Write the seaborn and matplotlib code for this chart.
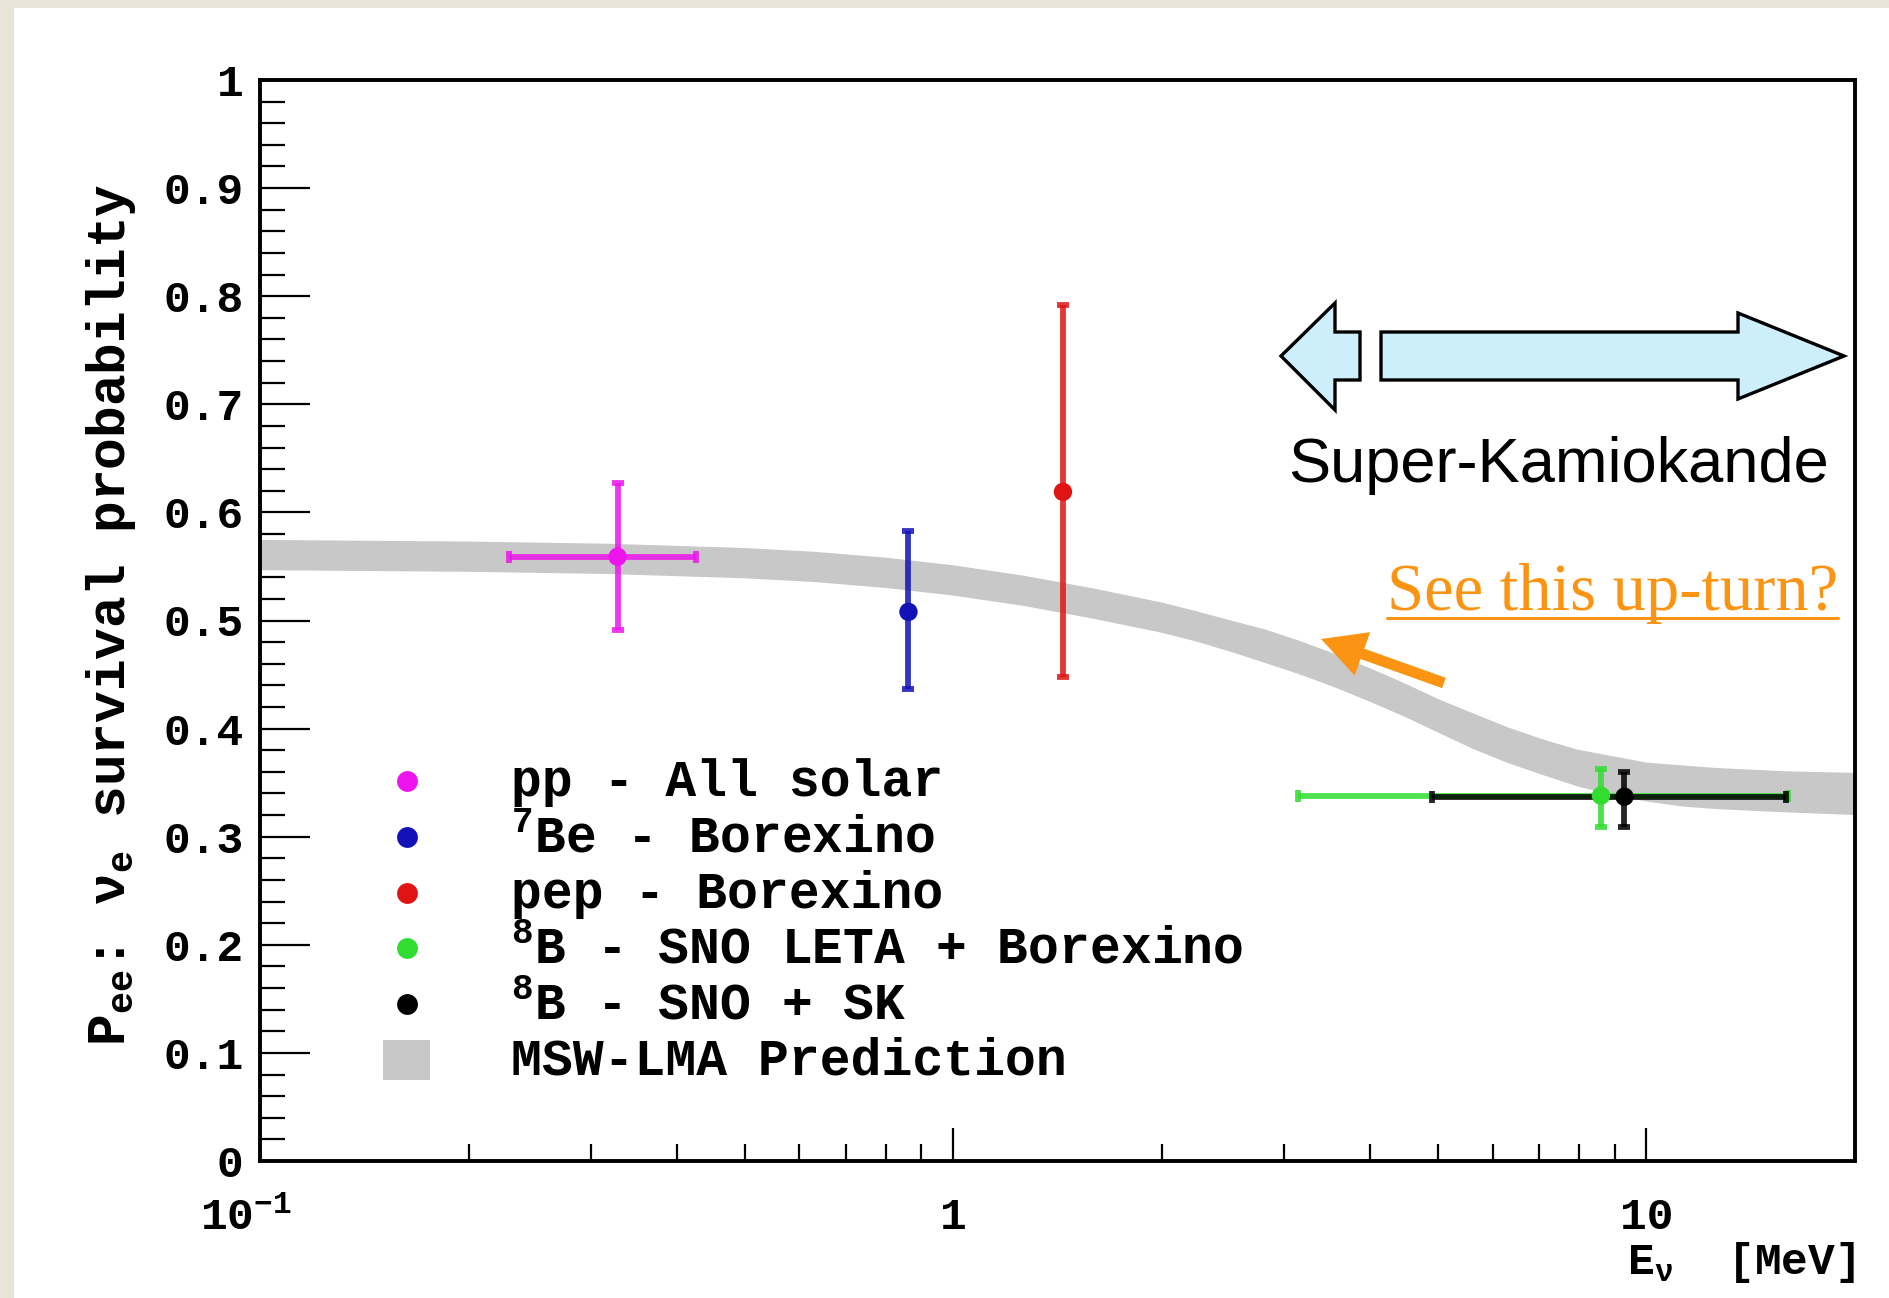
import numpy as np
import pandas as pd
import matplotlib
matplotlib.use("Agg")
import matplotlib.pyplot as plt
import seaborn as sns
from matplotlib.patches import Polygon, Rectangle, FancyArrow
from matplotlib.lines import Line2D
from matplotlib.transforms import Affine2D, ScaledTranslation
from matplotlib.ticker import FixedLocator, FixedFormatter, NullFormatter

# ---------------- measurements ----------------
labels = ["pp - All solar", "$^{7}$Be - Borexino", "pep - Borexino",
          "$^{8}$B - SNO LETA + Borexino", "$^{8}$B - SNO + SK"]
colors = ["#ee14ee", "#1212b8", "#e01414", "#30dd30", "#000000"]
energy = [0.328, 0.862, 1.44, 8.6, 9.3]
energy_low = [0.229, 0.862, 1.44, 3.14, 4.9]
energy_high = [0.425, 0.862, 1.44, 16.0, 15.9]
pee = [0.559, 0.508, 0.619, 0.338, 0.337]
pee_err_down = [0.068, 0.071, 0.171, 0.029, 0.028]
pee_err_up = [0.068, 0.075, 0.173, 0.025, 0.023]

# ---------------- MSW-LMA prediction band ----------------
band_energy = [0.1, 0.2, 0.316, 0.5, 0.631, 0.8, 1.0, 1.26, 1.58, 2.0, 2.24,
               2.51, 2.82, 3.16, 3.55, 3.98, 4.47, 5.01, 5.62, 6.31, 7.08,
               7.94, 8.91, 10.0, 11.2, 12.6, 15.8, 20.0]
band_low = [0.547, 0.5455, 0.5435, 0.5395, 0.536, 0.5305, 0.5235, 0.514, 0.5025,
            0.489, 0.481, 0.4715, 0.461, 0.4505, 0.4385, 0.4255, 0.4115,
            0.3965, 0.3815, 0.3685, 0.3575, 0.347, 0.339, 0.333, 0.3285,
            0.326, 0.323, 0.3205]
band_high = [0.575, 0.5735, 0.5715, 0.5675, 0.564, 0.5585, 0.5515, 0.542, 0.5305,
             0.517, 0.509, 0.5005, 0.492, 0.4815, 0.4695, 0.4565, 0.4425,
             0.4275, 0.4145, 0.4015, 0.3905, 0.381, 0.375, 0.369, 0.3665,
             0.364, 0.361, 0.3595]

x_ticks = [0.1, 1, 10]
x_tick_labels = ["10$^{-1}$", "1", "10"]
y_ticks = [round(0.1 * i, 1) for i in range(11)]
y_tick_labels = ["0", "0.1", "0.2", "0.3", "0.4", "0.5", "0.6", "0.7", "0.8", "0.9", "1"]

band_color = "#c8c8c8"
orange = "#fb9412"

# ---------------- style ----------------
sns.set_theme(style="white")
plt.rcParams["font.family"] = ["Liberation Mono", "DejaVu Sans Mono"]
plt.rcParams["font.weight"] = "bold"
plt.rcParams["axes.labelweight"] = "bold"
plt.rcParams["mathtext.fontset"] = "custom"
plt.rcParams["mathtext.rm"] = "Liberation Mono:bold"
plt.rcParams["mathtext.it"] = "Liberation Mono:bold"
plt.rcParams["mathtext.bf"] = "Liberation Mono:bold"
plt.rcParams["mathtext.default"] = "regular"
for key in ["text.color", "axes.labelcolor", "xtick.color", "ytick.color", "axes.edgecolor"]:
    plt.rcParams[key] = "black"

W, H = 1890, 1298
fig = plt.figure(figsize=(W / 100, H / 100), dpi=100, facecolor="white")
ax = fig.add_axes([260 / W, 1 - 1161 / H, (1855 - 260) / W, (1161 - 80) / H])
ax.set_facecolor("white")

# image-pixel transform (origin top-left) for the annotation shapes
pix = Affine2D().scale(1.0 / W, -1.0 / H).translate(0, 1) + fig.transFigure

# slide frame
fig.add_artist(Rectangle((0, 0), 14, H, transform=pix, color="#e8e4d8", lw=0, zorder=0))
fig.add_artist(Rectangle((0, 0), W, 8, transform=pix, color="#e8e4d8", lw=0, zorder=0))

# prediction band
ax.fill_between(band_energy, band_low, band_high, color=band_color, lw=0, zorder=1)

# error bars
for i in range(len(labels)):
    xl = energy[i] - energy_low[i]
    xh = energy_high[i] - energy[i]
    xerr = [[xl], [xh]] if (xl > 0 or xh > 0) else None
    ax.errorbar(energy[i], pee[i],
                yerr=[[pee_err_down[i]], [pee_err_up[i]]], xerr=xerr,
                fmt="none", ecolor=colors[i], elinewidth=4.2, capsize=4,
                capthick=4.2, alpha=0.85, zorder=3 + i)

# central values
df = pd.DataFrame({"source": labels, "energy": energy, "pee": pee})
sns.scatterplot(data=df, x="energy", y="pee", hue="source", hue_order=labels,
                palette=colors, s=175, edgecolor="none", legend=False,
                ax=ax, zorder=10)

ax.set_xscale("log")
ax.set_xlim(0.1, 20)
ax.set_ylim(0, 1)

ax.xaxis.set_major_locator(FixedLocator(x_ticks))
ax.xaxis.set_major_formatter(FixedFormatter(x_tick_labels))
minor_x = [k * 10.0 ** d for d in (-1, 0, 1) for k in range(2, 10) if k * 10.0 ** d < 20]
ax.xaxis.set_minor_locator(FixedLocator(minor_x))
ax.xaxis.set_minor_formatter(NullFormatter())
ax.yaxis.set_major_locator(FixedLocator(y_ticks))
ax.yaxis.set_major_formatter(FixedFormatter(y_tick_labels))
ax.yaxis.set_minor_locator(FixedLocator(np.arange(0, 1.0001, 0.02)))
ax.yaxis.set_minor_formatter(NullFormatter())

ax.tick_params(axis="y", which="major", direction="in", length=36, width=1.6,
               labelsize=32, pad=12, left=True, right=False)
ax.tick_params(axis="y", which="minor", direction="in", length=18, width=1.6,
               left=True, right=False)
ax.tick_params(axis="x", which="major", direction="in", length=24, width=1.6,
               labelsize=32, pad=26, bottom=True, top=False)
ax.tick_params(axis="x", which="minor", direction="in", length=12.5, width=1.6,
               bottom=True, top=False)
for s in ax.spines.values():
    s.set_visible(True)
    s.set_linewidth(2.8)
    s.set_color("black")

# nudge the 10^-1 label so the mantissa sits left of the corner
first = ax.xaxis.get_major_ticks()[0].label1
first.set_transform(first.get_transform() + ScaledTranslation(-0.14, 0, fig.dpi_scale_trans))

ax.set_xlabel("E$_{ν}$  [MeV]", fontsize=32)
ax.xaxis.set_label_coords(1.0, -0.1045)
ax.xaxis.label.set_ha("right")
ax.xaxis.label.set_va("baseline")

ax.set_ylabel("P$_{ee}$: ν$_{e}$ survival probability", fontsize=38)
ax.yaxis.set_label_coords(-0.094, 0.505)
ax.yaxis.label.set_va("center")

# legend
leg_marker_x, leg_text_x = 0.0922, 0.1574
leg_top, leg_step = 0.3515, 0.0516
for i, (lab, col) in enumerate(zip(labels, colors)):
    yy = leg_top - i * leg_step
    ax.plot([leg_marker_x], [yy], "o", color=col, ms=15, mec="none",
            transform=ax.transAxes, clip_on=False, zorder=12)
    ax.text(leg_text_x, yy - 0.0139, lab, transform=ax.transAxes,
            fontsize=37, ha="left", va="baseline", zorder=12)
yy = leg_top - len(labels) * leg_step
ax.add_patch(Rectangle((0.0771, yy - 0.0185), 0.0295, 0.037, transform=ax.transAxes,
                       color=band_color, lw=0, zorder=12))
ax.text(leg_text_x, yy - 0.0139, "MSW-LMA Prediction", transform=ax.transAxes,
        fontsize=37, ha="left", va="baseline", zorder=12)

# Super-Kamiokande energy range arrows
left_arrow = [(1281, 356), (1335, 303), (1335, 332), (1360, 332), (1360, 380),
              (1335, 380), (1335, 410)]
right_arrow = [(1381, 332), (1738, 332), (1738, 313), (1844, 356), (1738, 399),
               (1738, 380), (1381, 380)]
for pts in (left_arrow, right_arrow):
    fig.add_artist(Polygon(pts, closed=True, transform=pix, facecolor="#cdeefb",
                           edgecolor="black", lw=2.4, zorder=20))
fig.text(1559 / W, 1 - 482 / H, "Super-Kamiokande", family=["Liberation Sans", "DejaVu Sans"],
         fontsize=45.5, weight="normal", ha="center", va="baseline", color="black", zorder=20)

# up-turn note
note = fig.text(1838 / W, 1 - 610 / H, "See this up-turn?",
                family=["Liberation Serif", "DejaVu Serif"], fontsize=48,
                weight="normal", color=orange, ha="right", va="baseline", zorder=20)
fig.canvas.draw()
bb = note.get_window_extent()
fig.add_artist(Line2D([bb.x0 / W, bb.x1 / W], [1 - 618 / H, 1 - 618 / H],
                      transform=fig.transFigure, color=orange, lw=2.2, zorder=20))
fig.add_artist(FancyArrow(1444, 683, -123, -44, width=11, head_width=46,
                          head_length=44, length_includes_head=True,
                          transform=pix, color=orange, lw=0, zorder=20))

fig.savefig("out.png", dpi=100, facecolor="white")
